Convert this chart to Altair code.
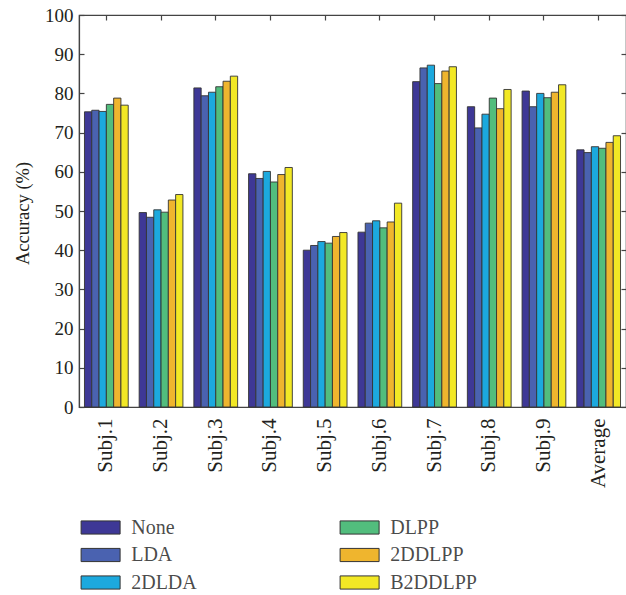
import altair as alt
import pandas as pd

subjects = ["Subj.1", "Subj.2", "Subj.3", "Subj.4", "Subj.5", "Subj.6",
            "Subj.7", "Subj.8", "Subj.9", "Average"]
methods = ["None", "LDA", "2DLDA", "DLPP", "2DDLPP", "B2DDLPP"]
colors = ["#3e3896", "#4a62b0", "#1ca9de", "#52bd7d", "#efb52e", "#f2e825"]

none_vals = [75.3, 49.6, 81.4, 59.5, 40.0, 44.6, 83.0, 76.6, 80.6, 65.6]
lda_vals = [75.7, 48.4, 79.4, 58.3, 41.2, 46.9, 86.5, 71.2, 76.6, 64.9]
dlda2_vals = [75.4, 50.3, 80.3, 60.1, 42.2, 47.5, 87.2, 74.7, 80.0, 66.4]
dlpp_vals = [77.2, 49.7, 81.7, 57.4, 41.8, 45.7, 82.5, 78.8, 78.9, 66.0]
ddlpp2_vals = [78.8, 52.8, 83.1, 59.3, 43.5, 47.2, 85.7, 76.1, 80.3, 67.5]
b2ddlpp_vals = [77.0, 54.2, 84.4, 61.1, 44.5, 52.0, 86.8, 81.0, 82.2, 69.2]

series = [none_vals, lda_vals, dlda2_vals, dlpp_vals, ddlpp2_vals, b2ddlpp_vals]
rows = []
for m, vals in zip(methods, series):
    for s, v in zip(subjects, vals):
        rows.append({"subject": s, "method": m, "value": v})
df = pd.DataFrame(rows)

W, H = 547, 392
FONT = "Liberation Serif"
TXT = "#231f20"
AX = "#444444"

xscale = alt.Scale(domain=subjects, paddingInner=0.2, paddingOuter=0.1)
yscale = alt.Scale(domain=[0, 100], nice=False, zero=True)
yvals = list(range(0, 101, 10))

base = alt.Chart(df)

bars = base.mark_bar(stroke="#333333", strokeWidth=0.9, opacity=1).encode(
    x=alt.X("subject:N", sort=subjects, scale=xscale,
            axis=alt.Axis(title=None, orient="bottom", labelAngle=270,
                          labelAlign="right", labelBaseline="middle",
                          labelFont=FONT, labelFontSize=21, labelColor=TXT,
                          ticks=False, tickSize=0, domain=True,
                          domainColor=AX, domainWidth=1.2,
                          labelPadding=11, grid=False)),
    xOffset=alt.XOffset("method:N", sort=methods,
                        scale=alt.Scale(domain=methods, paddingInner=0, paddingOuter=0)),
    y=alt.Y("value:Q", scale=yscale,
            axis=alt.Axis(title="Accuracy (%)", orient="left", values=yvals,
                          labelFont=FONT, labelFontSize=19, labelColor=TXT,
                          ticks=False, tickSize=0, labelPadding=6,
                          domain=True, domainColor=AX, domainWidth=1.2,
                          grid=False, titleFont=FONT, titleFontSize=18.5,
                          titleFontWeight="normal", titleColor=TXT,
                          titleX=-57, titleY=H / 2 + 2, titleAngle=270,
                          titleAlign="center", titleBaseline="middle")),
    color=alt.Color("method:N", scale=alt.Scale(domain=methods, range=colors),
                    legend=alt.Legend(title=None, orient="none", legendX=11.6, legendY=502.5,
                                      columns=2, columnPadding=140, rowPadding=7.5,
                                      symbolType="M-4,-1.35L4,-1.35L4,1.35L-4,1.35Z",
                                      symbolSize=95, symbolStrokeColor="#333333",
                                      symbolStrokeWidth=1, symbolOpacity=1,
                                      labelFont=FONT, labelFontSize=20,
                                      labelFontWeight="normal", labelFontStyle="normal",
                                      labelColor="#2a2a2a", labelOpacity=0.85,
                                      labelOffset=20.6, padding=0)),
)

# inward-pointing ticks (bottom and left edges)
ticks_in = base.mark_point(opacity=0).encode(
    x=alt.X("subject:N", sort=subjects, scale=xscale,
            axis=alt.Axis(title=None, orient="top", offset=-H, labels=False,
                          domain=False, ticks=True, tickSize=5, tickColor=AX,
                          tickWidth=1.2, grid=False)),
    y=alt.Y("value:Q", scale=yscale,
            axis=alt.Axis(title=None, orient="right", offset=-W, labels=False,
                          values=yvals, domain=False, ticks=True, tickSize=5,
                          tickColor=AX, tickWidth=1.2, grid=False)),
)

# inward-pointing ticks (top and right edges)
ticks_in2 = base.mark_point(opacity=0).encode(
    x=alt.X("subject:N", sort=subjects, scale=xscale,
            axis=alt.Axis(title=None, orient="bottom", offset=-H, labels=False,
                          domain=False, ticks=True, tickSize=5, tickColor=AX,
                          tickWidth=1.2, grid=False)),
    y=alt.Y("value:Q", scale=yscale,
            axis=alt.Axis(title=None, orient="left", offset=-W, labels=False,
                          values=yvals, domain=False, ticks=True, tickSize=5,
                          tickColor=AX, tickWidth=1.2, grid=False)),
)

chart = alt.layer(bars, ticks_in, ticks_in2).resolve_axis(
    x="independent", y="independent"
).properties(
    width=W, height=H,
    autosize=alt.AutoSizeParams(type="none"),
    padding={"left": 79, "top": 15, "right": 0, "bottom": 188},
    background="white",
).configure_view(stroke=AX, strokeWidth=1.2)

chart.save("out.html", embed_options={"renderer": "svg", "actions": False})
